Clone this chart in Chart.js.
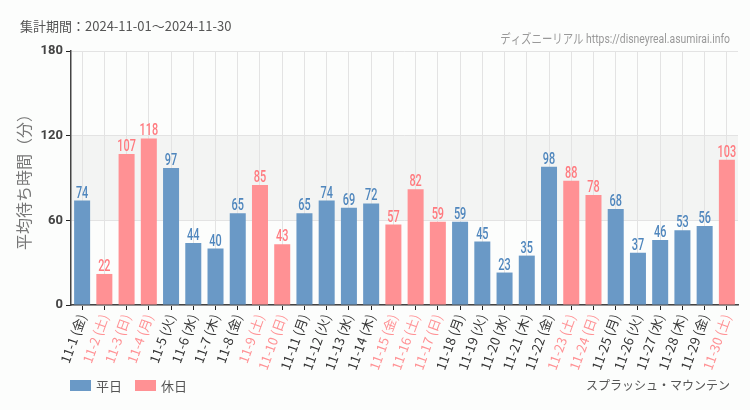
<!DOCTYPE html>
<html><head><meta charset="utf-8">
<script src="https://cdn.jsdelivr.net/npm/chart.js@4.4.1/dist/chart.umd.min.js"></script>
<style>html,body{margin:0;padding:0;background:#fcfdfc;}#wrap{width:750px;height:410px;position:relative;}</style>
</head><body><div id="wrap"><canvas id="c" width="750" height="410"></canvas></div>
<script>
const dates = ["11-1","11-2","11-3","11-4","11-5","11-6","11-7","11-8","11-9","11-10","11-11","11-12","11-13","11-14","11-15","11-16","11-17","11-18","11-19","11-20","11-21","11-22","11-23","11-24","11-25","11-26","11-27","11-28","11-29","11-30"];
const weekdays = ["金","土","日","月","火","水","木","金","土","日","月","火","水","木","金","土","日","月","火","水","木","金","土","日","月","火","水","木","金","土"];
const waitTimes = [74,22,107,118,97,44,40,65,85,43,65,74,69,72,57,82,59,59,45,23,35,98,88,78,68,37,46,53,56,103];
const isHoliday = [0,1,1,1,0,0,0,0,1,1,0,0,0,0,1,1,1,0,0,0,0,0,1,1,0,0,0,0,0,1];
const yTicks = [0,60,120,180];
const seriesNames = ["平日","休日"];
const periodText = "集計期間：2024-11-01～2024-11-30";
const sourceText = "ディズニーリアル https://disneyreal.asumirai.info";
const attractionName = "スプラッシュ・マウンテン";

const BLUE = "#6a99c6", PINK = "#ff9194", BLUE_T = "#4f86bd", PINK_T = "#ff7a7f";
const labels = dates.map((d,i)=>d+" ("+weekdays[i]+")");
const weekdayData = waitTimes.map((v,i)=>isHoliday[i]?null:v);
const holidayData = waitTimes.map((v,i)=>isHoliday[i]?v:null);

function condensedText(ctx, text, x, y, sx){
  ctx.save();
  ctx.translate(x, y);
  ctx.scale(sx, 1);
  ctx.fillText(text, 0, 0);
  ctx.restore();
}

const extras = {
  id:'extras',
  beforeDraw(chart){
    const {ctx, chartArea:a, scales:{y}} = chart;
    ctx.save();
    ctx.fillStyle = "#f3f4f3";
    const t = y.getPixelForValue(120), b = y.getPixelForValue(60);
    ctx.fillRect(a.left, t, a.right-a.left, b-t);
    ctx.restore();
  },
  afterDatasetsDraw(chart){
    const ctx = chart.ctx;
    ctx.save();
    ctx.font = "500 16px 'Roboto', sans-serif";
    ctx.textAlign = "center"; ctx.textBaseline = "alphabetic";
    chart.data.datasets.forEach((ds,di)=>{
      const meta = chart.getDatasetMeta(di);
      meta.data.forEach((el,i)=>{
        const v = ds.data[i];
        if(v==null) return;
        ctx.fillStyle = di===0?BLUE_T:PINK_T;
        condensedText(ctx, String(v), el.x, el.y-3, 0.68);
      });
    });
    ctx.restore();
  },
  afterDraw(chart){
    const ctx = chart.ctx;
    ctx.save();
    ctx.textBaseline = "middle";
    ctx.fillStyle = "#555";
    ctx.font = "13px 'Noto Sans CJK JP', sans-serif";
    ctx.textAlign = "left";
    ctx.fillText(periodText, 20, 26);
    ctx.fillStyle = "#999";
    ctx.font = "13px 'Roboto', 'Noto Sans CJK JP', sans-serif";
    ctx.textAlign = "right";
    condensedText(ctx, sourceText, 730, 40, 0.8);
    // legend
    ctx.textAlign = "left";
    ctx.font = "13px 'Noto Sans CJK JP', sans-serif";
    ctx.fillStyle = BLUE; ctx.fillRect(70, 380, 21, 11);
    ctx.fillStyle = "#555"; ctx.fillText(seriesNames[0], 96, 386);
    ctx.fillStyle = PINK; ctx.fillRect(135, 380, 21, 11);
    ctx.fillStyle = "#555"; ctx.fillText(seriesNames[1], 161, 386);
    ctx.textAlign = "right";
    ctx.font = "12px 'Noto Sans CJK JP', sans-serif";
    ctx.fillText(attractionName, 730, 385);
    ctx.restore();
  }
};

new Chart(document.getElementById('c'), {
  type:'bar',
  data:{labels, datasets:[
    {label:seriesNames[0], data:weekdayData, backgroundColor:BLUE, grouped:false, barPercentage:0.72, categoryPercentage:1},
    {label:seriesNames[1], data:holidayData, backgroundColor:PINK, grouped:false, barPercentage:0.72, categoryPercentage:1}
  ]},
  options:{
    responsive:false, animation:false,
    layout:{padding:{left:14,right:12,top:51,bottom:33}},
    plugins:{legend:{display:false}, tooltip:{enabled:false}, title:{display:false}},
    scales:{
      x:{
        offset:true,
        grid:{display:true, offset:false, color:"#e3e3e3", drawTicks:true, tickLength:5, tickColor:"#222"},
        border:{display:true, color:"#444", width:1.5},
        ticks:{minRotation:70, maxRotation:70, autoSkip:false, padding:2,
          font:{size:13, family:"'Noto Sans CJK JP', sans-serif"},
          color:(c)=>isHoliday[c.index]?PINK:"#333"},
        afterFit(s){ s.height = 72; }
      },
      y:{
        min:0, max:180,
        afterBuildTicks(s){ s.ticks = yTicks.map(v=>({value:v})); },
        grid:{color:"#e3e3e3", tickLength:5, tickColor:"#222"},
        border:{display:true, color:"#444", width:1.5},
        ticks:{font:{size:13, weight:'bold', family:"'Roboto', sans-serif"}, color:"#444", padding:3},
        title:{display:true, text:"平均待ち時間（分）", color:"#777", font:{size:16, family:"'Noto Sans CJK JP', sans-serif"}, padding:{top:0,bottom:4}},
        afterFit(s){ s.width = 57; }
      }
    }
  },
  plugins:[extras]
});
</script></body></html>
